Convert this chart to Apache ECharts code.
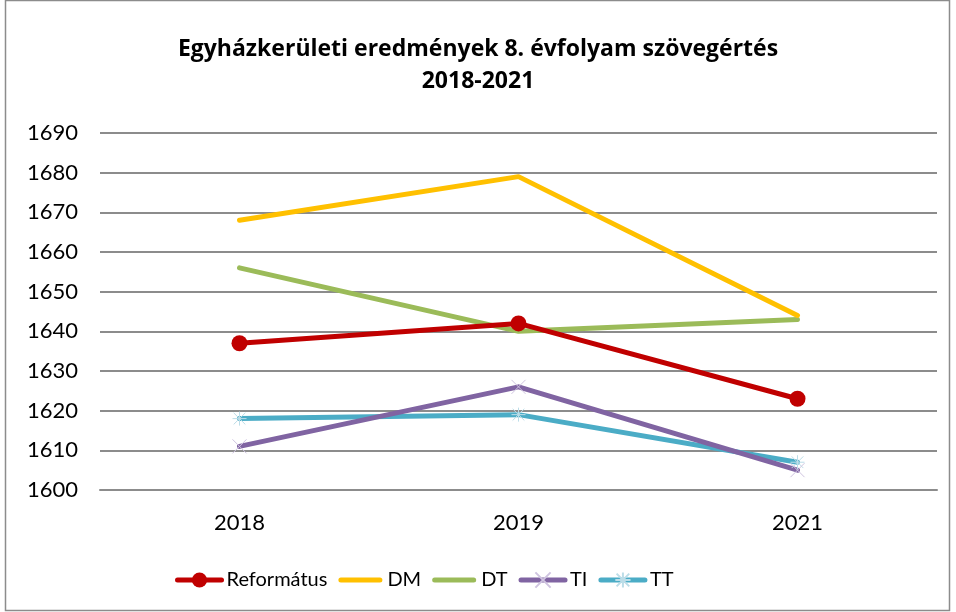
<!DOCTYPE html>
<html>
<head>
<meta charset="utf-8">
<script src="https://cdn.jsdelivr.net/npm/echarts@6/dist/echarts.min.js"></script>
<style>
  html, body { margin: 0; padding: 0; background: #fff; }
  #chart { width: 956px; height: 612px; }
</style>
</head>
<body>
<div id="chart"></div>
<script>
// Évfolyam-eredmények (8. évfolyam, szövegértés)
const years = ['2018', '2019', '2021'];
const reformatus = [1637, 1642, 1623];
const dm = [1668, 1679, 1644];
const dt = [1656, 1640, 1643];
const ti = [1611, 1626, 1605];
const tt = [1618, 1619, 1607];
const yTicks = { min: 1600, max: 1690, step: 10 };

const FONT = 'Lato, "Open Sans", "Liberation Sans", sans-serif';
const TITLE_FONT = '"Open Sans", Lato, sans-serif';
const crossPath = 'path://M0,0 L10,10 M10,0 L0,10';
const starPath = 'path://M0,0 L10,10 M10,0 L0,10 M5,-1 L5,11 M-1,5 L11,5';
// plain stroke used as legend icon for series without markers
const barIcon = 'path://M2.5,0 L41.5,0 A2.5,2.5 0 0 1 41.5,5 L2.5,5 A2.5,2.5 0 0 1 2.5,0 Z';

function lineSeries(name, data, color, extra) {
  return Object.assign({
    name: name,
    type: 'line',
    data: data,
    symbol: 'none',
    lineStyle: { color: color, width: 5, cap: 'round', join: 'round' },
    itemStyle: { color: color },
    emphasis: { disabled: true },
    animation: false
  }, extra || {});
}

const chart = echarts.init(document.getElementById('chart'), null, { renderer: 'canvas' });
chart.setOption({
  backgroundColor: '#ffffff',
  title: {
    text: 'Egyházkerületi eredmények 8. évfolyam szövegértés\n2018-2021',
    left: 473,
    textAlign: 'center',
    top: 28,
    textStyle: { fontFamily: TITLE_FONT, fontWeight: 'bold', fontSize: 23, lineHeight: 32, color: '#000' }
  },
  legend: {
    bottom: 17,
    left: 170,
    itemWidth: 44,
    itemHeight: 19,
    itemGap: 11,
    lineStyle: { width: 5, cap: 'round' },
    textStyle: { fontFamily: FONT, fontSize: 20, color: '#000' },
    data: [
      { name: 'Református' },
      { name: 'DM', icon: barIcon },
      { name: 'DT', icon: barIcon },
      { name: 'TI' },
      { name: 'TT' }
    ]
  },
  grid: { left: 100, right: 19, top: 133, bottom: 122, containLabel: false },
  xAxis: {
    type: 'category',
    data: years,
    boundaryGap: true,
    axisLine: { show: true, lineStyle: { color: '#8c8c8c', width: 2 } },
    axisTick: { show: false },
    axisLabel: { fontFamily: FONT, fontSize: 22, color: '#000', margin: 22 }
  },
  yAxis: {
    type: 'value',
    min: yTicks.min,
    max: yTicks.max,
    interval: yTicks.step,
    axisLine: { show: false },
    axisTick: { show: false },
    axisLabel: { fontFamily: FONT, fontSize: 22, color: '#000', margin: 22, formatter: v => String(v) },
    splitLine: { lineStyle: { color: '#8c8c8c', width: 2 } }
  },
  series: [
    lineSeries('TT', tt, '#4BACC6', {
      symbol: starPath, symbolSize: 14, showSymbol: true,
      itemStyle: { color: 'rgba(0,0,0,0)', borderColor: '#bcdde8', borderWidth: 1 }
    }),
    lineSeries('TI', ti, '#8064A2', {
      symbol: crossPath, symbolSize: 14, showSymbol: true,
      itemStyle: { color: 'rgba(0,0,0,0)', borderColor: '#cfc4e0', borderWidth: 1 }
    }),
    lineSeries('DT', dt, '#9BBB59'),
    lineSeries('DM', dm, '#FFC000'),
    lineSeries('Református', reformatus, '#C00000', {
      symbol: 'circle', symbolSize: 16, showSymbol: true,
      itemStyle: { color: '#C00000' }
    })
  ],
  graphic: [{
    type: 'rect',
    shape: { x: 5.5, y: 0.5, width: 944, height: 610 },
    style: { fill: 'none', stroke: '#8c8c8c', lineWidth: 1.5 },
    silent: true
  }]
});
</script>
</body>
</html>
